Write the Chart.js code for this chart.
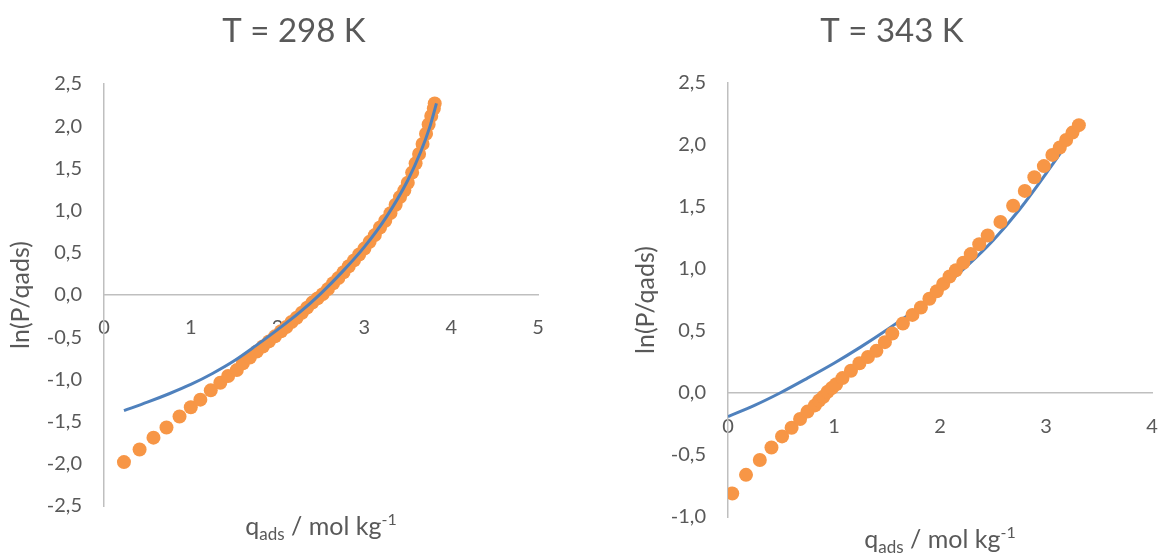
<!DOCTYPE html>
<html>
<head>
<meta charset="utf-8">
<script src="https://cdn.jsdelivr.net/npm/chart.js@4/dist/chart.umd.min.js"></script>
<style>
html,body{margin:0;padding:0;background:#fff;}
#wrap{position:relative;width:1159px;height:554px;overflow:hidden;}
canvas{position:absolute;top:0;}
</style>
</head>
<body>
<div id="wrap">
<canvas id="c298" width="580" height="554" style="left:0"></canvas>
<canvas id="c343" width="579" height="554" style="left:580px"></canvas>
</div>
<script>
// T = 298 K  (experimental points + fit)
var q298=[0.23,0.41,0.57,0.72,0.87,1.00,1.11,1.23,1.34,1.43,1.53,1.60,1.68,1.76,1.83,1.90,1.97,2.04,2.10,2.16,2.22,2.28,2.34,2.40,2.46,2.52,2.58,2.64,2.70,2.76,2.82,2.88,2.94,3.00,3.06,3.12,3.18,3.24,3.30,3.36,3.41,3.46,3.50,3.55,3.59,3.63,3.67,3.71,3.74,3.77,3.80,3.81];
var ln298=[-1.98,-1.83,-1.69,-1.57,-1.44,-1.33,-1.24,-1.13,-1.04,-0.96,-0.89,-0.81,-0.74,-0.67,-0.61,-0.55,-0.49,-0.43,-0.38,-0.32,-0.27,-0.21,-0.15,-0.09,-0.04,0.01,0.07,0.14,0.20,0.27,0.34,0.41,0.48,0.55,0.63,0.71,0.80,0.88,0.97,1.07,1.16,1.24,1.33,1.45,1.56,1.67,1.79,1.91,2.02,2.12,2.21,2.27];
var qFit298=[0.23,0.5,0.75,1.0,1.25,1.5,1.75,2.0,2.25,2.5,2.75,3.0,3.25,3.5,3.65,3.75,3.83];
var lnFit298=[-1.37,-1.27,-1.17,-1.06,-0.93,-0.78,-0.60,-0.41,-0.21,0.02,0.28,0.57,0.92,1.36,1.70,1.98,2.27];
var xTicks298=[0,1,2,3,4,5];
var yTicks298=[-2.5,-2,-1.5,-1,-0.5,0,0.5,1,1.5,2,2.5];

// T = 343 K
var q343=[0.04,0.17,0.30,0.41,0.51,0.60,0.68,0.75,0.82,0.86,0.90,0.94,0.98,1.02,1.08,1.16,1.24,1.32,1.40,1.48,1.55,1.65,1.74,1.82,1.90,1.97,2.03,2.09,2.15,2.22,2.29,2.37,2.45,2.57,2.69,2.80,2.89,2.98,3.06,3.13,3.19,3.25,3.31];
var ln343=[-0.81,-0.66,-0.54,-0.44,-0.35,-0.28,-0.21,-0.15,-0.10,-0.06,-0.03,0.01,0.04,0.07,0.12,0.18,0.24,0.29,0.34,0.41,0.48,0.56,0.63,0.69,0.76,0.82,0.88,0.94,0.99,1.05,1.12,1.20,1.27,1.38,1.51,1.63,1.74,1.83,1.92,1.98,2.04,2.10,2.16];
var qFit343=[0.0,0.25,0.49,0.75,1.0,1.25,1.5,1.75,2.0,2.25,2.5,2.75,3.0,3.2,3.31];
var lnFit343=[-0.19,-0.10,0.0,0.12,0.24,0.37,0.51,0.66,0.83,1.02,1.23,1.48,1.77,2.02,2.20];
var xTicks343=[0,1,2,3,4];
var yTicks343=[-1,-0.5,0,0.5,1,1.5,2,2.5];

var FONT='Lato, "Open Sans", sans-serif';
var TXT='#595959',AXIS='#bfbfbf',ORANGE='#f79646',BLUE='#4f81bd';

function pts(xs,ys){
    var out=[];
    for(var i=0;i<xs.length;i++)out.push({x:xs[i],y:ys[i]});
    return out;
}
function comma(v){return v.toFixed(1).replace('.',',');}

// chart title + axis titles (x title has sub/superscript)
var axisTitles={
    id:'axisTitles',
    afterDraw:function(chart,args,o){
        var ctx=chart.ctx,a=chart.chartArea;
        ctx.save();
        ctx.fillStyle=TXT;
        ctx.font='33px '+FONT;
        ctx.textAlign='center';ctx.textBaseline='middle';
        ctx.fillText(o.title,o.titleX,31);
        ctx.restore();

        ctx.save();
        ctx.fillStyle=TXT;
        ctx.translate(o.yX,(a.top+a.bottom)/2);
        ctx.rotate(-Math.PI/2);
        ctx.font='25px '+FONT;
        ctx.textAlign='center';ctx.textBaseline='middle';
        ctx.fillText('ln(P/qads)',0,0);
        ctx.restore();

        var parts=[{t:'q',s:25,dy:0},{t:'ads',s:17,dy:5},{t:' / mol kg',s:25,dy:0},{t:'-1',s:16,dy:-10}];
        var w=0,i;
        ctx.save();
        for(i=0;i<parts.length;i++){ctx.font=parts[i].s+'px '+FONT;parts[i].w=ctx.measureText(parts[i].t).width;w+=parts[i].w;}
        var x=(a.left+a.right)/2-w/2;
        ctx.fillStyle=TXT;ctx.textAlign='left';ctx.textBaseline='alphabetic';
        for(i=0;i<parts.length;i++){
            ctx.font=parts[i].s+'px '+FONT;
            ctx.fillText(parts[i].t,x,o.xBase+parts[i].dy);
            x+=parts[i].w;
        }
        ctx.restore();
    }
};

function mk(id,title,exp,fit,xt,yt,cfg){
    return new Chart(document.getElementById(id),{
        type:'scatter',
        data:{datasets:[
            {label:'exp',data:exp,backgroundColor:ORANGE,borderWidth:0,pointRadius:7,pointHoverRadius:7,order:cfg.expOrder},
            {label:'fit',data:fit,showLine:true,borderColor:BLUE,borderWidth:3,pointRadius:0,fill:false,cubicInterpolationMode:'monotone',order:cfg.fitOrder}
        ]},
        plugins:[axisTitles],
        options:{
            responsive:false,animation:false,
            layout:{padding:{top:cfg.padT,left:0,right:cfg.padR,bottom:cfg.padB}},
            plugins:{
                legend:{display:false},tooltip:{enabled:false},title:{display:false},
                axisTitles:{title:title,titleX:cfg.titleX,yX:cfg.yX,xBase:cfg.xBase}
            },
            scales:{
                x:{type:'linear',position:{y:0},min:xt[0],max:xt[xt.length-1],
                    afterBuildTicks:function(s){s.ticks=xt.map(function(v){return {value:v};});},
                    afterFit:function(s){s.paddingLeft=0;s.paddingRight=0;},
                    grid:{display:false,drawTicks:false},
                    border:{display:true,color:AXIS,width:1.5},
                    ticks:{color:TXT,font:{family:FONT,size:20},padding:cfg.xPad,maxRotation:0,callback:function(v){return String(v);}}
                },
                y:{type:'linear',min:yt[0],max:yt[yt.length-1],
                    afterBuildTicks:function(s){s.ticks=yt.map(function(v){return {value:v};});},
                    afterFit:function(s){s.width=cfg.yW;},
                    grid:{display:false,drawTicks:false},
                    border:{display:true,color:AXIS,width:1.5},
                    ticks:{color:TXT,font:{family:FONT,size:20},padding:22,callback:function(v){return comma(v);}}
                }
            }
        }
    });
}

mk('c298','T = 298 K',pts(q298,ln298),pts(qFit298,lnFit298),xTicks298,yTicks298,
    {padT:84,padR:42,padB:48,yW:104,titleX:294,yX:21,xBase:535,xPad:21,expOrder:1,fitOrder:0});
mk('c343','T = 343 K',pts(q343,ln343),pts(qFit343,lnFit343),xTicks343,yTicks343,
    {padT:83,padR:6,padB:37,yW:148,titleX:312,yX:66,xBase:548,xPad:22,expOrder:0,fitOrder:1});
</script>
</body>
</html>
